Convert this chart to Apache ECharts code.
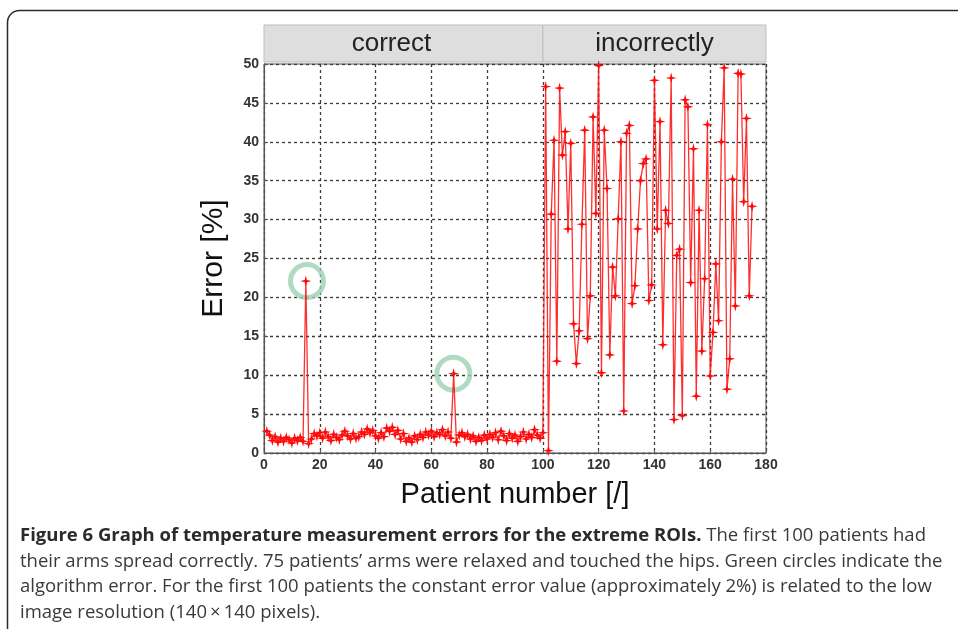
<!DOCTYPE html>
<html>
<head>
<meta charset="utf-8">
<script src="https://cdn.jsdelivr.net/npm/echarts@6/dist/echarts.min.js"></script>
<style>
  html, body { margin: 0; padding: 0; background: #fff; }
  #chart { width: 958px; height: 629px; }
</style>
</head>
<body>
<div id="chart"></div>
<script>
// patients 1..100: arms spread correctly
const correctErrors = [
  2.8, 2.3, 1.6, 2.1, 1.4, 1.9, 1.5, 2.0, 1.7, 1.3,
  1.9, 1.6, 2.0, 1.5, 22.1, 1.2, 1.8, 2.5, 2.2, 2.6,
  1.9, 2.7, 2.1, 1.6, 2.4, 2.0, 1.7, 2.3, 2.8, 2.2,
  1.8, 2.5, 1.9, 2.1, 2.7, 2.4, 3.1, 2.6, 2.9, 2.2,
  1.9, 2.6, 2.1, 3.2, 2.8, 3.3, 2.4, 2.9, 1.8, 2.5,
  1.5, 1.9, 1.4, 2.2, 1.7, 2.4, 2.0, 2.7, 2.3, 2.8,
  2.1, 2.6, 2.4, 3.0, 2.2, 2.7, 1.9, 10.2, 1.4, 2.3,
  2.6, 2.1, 2.4, 1.8, 2.2, 1.5, 2.0, 1.6, 2.3, 1.8,
  2.4, 2.0, 2.6, 1.7, 2.8, 2.2, 1.6, 2.5, 1.9, 2.3,
  1.5, 2.1, 2.7, 1.8, 2.4, 2.0, 3.0, 2.3, 1.9, 2.6
]
// patients 101..175: arms relaxed, touching the hips
const incorrectErrors = [
  47.1, 0.3, 30.7, 40.2, 11.8, 46.9, 38.3, 41.3, 28.8, 39.8,
  16.6, 11.5, 15.7, 29.4, 41.5, 14.7, 20.2, 43.2, 30.8, 49.8,
  10.3, 41.5, 34.0, 12.6, 23.9, 20.2, 30.1, 40.0, 5.4, 41.1,
  42.1, 19.2, 21.5, 28.8, 35.0, 37.2, 37.8, 19.6, 21.6, 47.9,
  28.8, 42.6, 13.9, 31.2, 29.5, 48.2, 4.3, 25.4, 26.2, 4.8,
  45.4, 44.5, 21.9, 39.1, 7.3, 31.2, 13.1, 22.4, 42.2, 9.9,
  15.5, 24.3, 17.0, 40.0, 49.5, 8.2, 12.1, 35.2, 18.9, 48.8,
  48.7, 32.3, 43.0, 20.2, 31.7
]
// algorithm errors marked with green circles: [patient, error]
const circledPoints = [[15.4, 22.1], [67.9, 10.2]]
const groupLabels = ['correct', 'incorrectly']
const groupBounds = [0, 100, 180]

const caption = [
  '{b|Figure 6 Graph of temperature measurement errors for the extreme ROIs.} The first 100 patients had',
  'their arms spread correctly. 75 patients\u2019 arms were relaxed and touched the hips. Green circles indicate the',
  'algorithm error. For the first 100 patients the constant error value (approximately 2%) is related to the low',
  'image resolution (140\u2009\u00d7\u2009140 pixels).'
]

const allErrors = correctErrors.concat(incorrectErrors)
const points = allErrors.map((v, i) => [i + 1, v])

const star = 'path://M0,-10 L2,-2 L10,0 L2,2 L0,10 L-2,2 L-10,0 L-2,-2 Z'
const tickFont = { color: '#333', fontSize: 14, fontWeight: 'bold', fontFamily: '"Liberation Sans Narrow", "Liberation Sans", Arial, sans-serif' }
const dashed = { show: true, lineStyle: { color: '#3a3a3a', type: [3, 3], width: 1.3 } }
const capFont = '"Open Sans", "Noto Sans", sans-serif'

const chart = echarts.init(document.getElementById('chart'), null, { renderer: 'canvas' })

chart.setOption({
  animation: false,
  backgroundColor: '#fff',
  grid: {
    left: 264, right: 192, top: 64, bottom: 176,
    show: true, borderColor: '#555', borderWidth: 1, backgroundColor: 'transparent'
  },
  xAxis: {
    type: 'value', min: 0, max: 180, interval: 20,
    name: 'Patient number [/]', nameLocation: 'middle', nameGap: 27,
    nameTextStyle: { color: '#111', fontSize: 29, fontFamily: '"Liberation Sans", Arial, sans-serif' },
    axisLine: { show: true, lineStyle: { color: '#555' } },
    axisTick: { show: true, inside: true, length: 4, lineStyle: { color: '#555' } },
    axisLabel: Object.assign({ margin: 5 }, tickFont),
    splitLine: dashed
  },
  yAxis: {
    type: 'value', min: 0, max: 50, interval: 5,
    name: 'Error [%]', nameLocation: 'middle', nameGap: 35,
    nameTextStyle: { color: '#111', fontSize: 30, fontFamily: '"Liberation Sans", Arial, sans-serif' },
    axisLine: { show: true, lineStyle: { color: '#555' } },
    axisTick: { show: true, inside: true, length: 4, lineStyle: { color: '#555' } },
    axisLabel: Object.assign({ margin: 5 }, tickFont),
    splitLine: dashed
  },
  series: [
    {
      type: 'scatter',
      data: circledPoints,
      symbol: 'circle',
      symbolSize: 33,
      z: 1,
      itemStyle: { color: 'rgba(0,0,0,0)', borderColor: '#9dd1b3', borderWidth: 5 },
      silent: true
    },
    {
      type: 'line',
      data: points,
      symbol: star,
      symbolSize: 11,
      showAllSymbol: true,
      z: 3,
      lineStyle: { color: 'rgba(255, 10, 10, 0.85)', width: 1.3 },
      itemStyle: { color: '#ff0a0a' }
    }
  ]
})

// group header strip above the plot, placed from the x scale
const topY = chart.convertToPixel({ gridIndex: 0 }, [0, 50])[1]
const headerElems = groupLabels.map((label, i) => {
  const x0 = chart.convertToPixel({ gridIndex: 0 }, [groupBounds[i], 0])[0]
  const x1 = chart.convertToPixel({ gridIndex: 0 }, [groupBounds[i + 1], 0])[0]
  return {
    type: 'group',
    children: [
      {
        type: 'rect',
        shape: { x: x0, y: topY - 39, width: x1 - x0, height: 37 },
        style: { fill: '#dedede', stroke: '#bdbdbd', lineWidth: 1 }
      },
      {
        type: 'text',
        x: (x0 + x1) / 2 - (i === 0 ? 12 : 0), y: topY - 20,
        style: {
          text: label, fill: '#222', fontSize: 26,
          fontFamily: '"Liberation Sans", Arial, sans-serif',
          align: 'center', verticalAlign: 'middle'
        }
      }
    ]
  }
})

chart.setOption({
  graphic: [
    {
      type: 'rect',
      shape: { x: 7.5, y: 10.5, width: 1000, height: 700, r: 12 },
      style: { fill: 'none', stroke: '#2a2a2a', lineWidth: 1.5 },
      z: -1
    },
    ...headerElems,
    {
      type: 'text',
      x: 20, y: 523,
      style: {
        text: caption.join('\n'),
        fill: '#3a3a3a', fontSize: 18.5, lineHeight: 25.5,
        fontFamily: capFont,
        rich: {
          b: { fontWeight: 'bold', fill: '#2a2a2a', fontSize: 18.5, lineHeight: 25.5, fontFamily: capFont }
        }
      }
    }
  ]
})

window.addEventListener('resize', () => chart.resize())
</script>
</body>
</html>
